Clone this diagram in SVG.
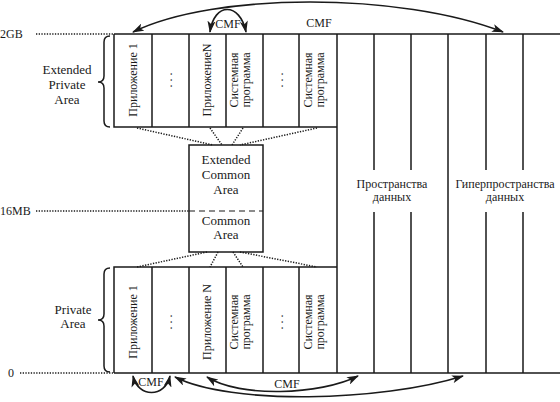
<svg xmlns="http://www.w3.org/2000/svg" width="560" height="402" viewBox="0 0 560 402" font-family="'Liberation Serif', 'Times New Roman', 'DejaVu Serif', serif">
<style>
text{font-family:'Liberation Serif','Times New Roman','DejaVu Serif',serif;font-size:12px;fill:#1a1a1a}
.c{text-anchor:middle}
.b{font-size:13px}
.ln{stroke:#1a1a1a;stroke-width:1.5;fill:none}
.dot{stroke:#1a1a1a;stroke-width:1.5;stroke-dasharray:1.3 1.4;fill:none}
.arc{stroke:#1a1a1a;stroke-width:1.6;fill:none;marker-start:url(#ah);marker-end:url(#ah)}
</style>
<defs>
<marker id="ah" viewBox="0 0 12 8" refX="11" refY="4" markerWidth="12" markerHeight="8" markerUnits="userSpaceOnUse" orient="auto-start-reverse">
<path d="M0,0 L12,4 L0,8 L3,4 z" fill="#1a1a1a"/>
</marker>
</defs>
<rect width="560" height="402" fill="#fff"/>

<g id="scale">
<text x="0" y="38">2GB</text>
<path class="dot" d="M36,34 H113"/>
<text x="0" y="215">16MB</text>
<path class="dot" d="M36,211 H189"/>
<text x="8" y="377">0</text>
<path class="dot" d="M20,373 H113"/>
</g>

<g id="extended-private-label">
<text class="c b" x="67" y="74">Extended</text>
<text class="c b" x="67" y="89">Private</text>
<text class="c b" x="67" y="104">Area</text>
<path class="ln" stroke-width="1" d="M110,36 Q104,36 104,42 V76 Q104,82 98,82 Q104,82 104,88 V121 Q104,127 110,127"/>
</g>

<g id="private-label">
<text class="c b" x="73" y="314">Private</text>
<text class="c b" x="73" y="328">Area</text>
<path class="ln" stroke-width="1" d="M110,268 Q104,268 104,274 V314 Q104,320 98,320 Q104,320 104,326 V366 Q104,372 110,372"/>
</g>

<g id="address-space-frame">
<path class="ln" d="M114,34 H560 M114,373 H560"/>
<path class="ln" d="M337,34 V373 M448,34 V373 M374,34 V170 M374,212 V373 M411,34 V170 M411,212 V373 M486,34 V170 M486,212 V373 M523,34 V170 M523,212 V373"/>
</g>

<g id="upper-block">
<path class="ln" d="M114,34 V127 H337 M152,34 V127 M189,34 V127 M226,34 V127 M263,34 V127 M299,34 V127"/>
<text class="c" transform="translate(137,80) rotate(-90)">Приложение 1</text>
<text class="c" transform="translate(172,80) rotate(-90)">. . .</text>
<text class="c" transform="translate(211,80) rotate(-90)">ПриложениеN</text>
<text class="c" transform="translate(238,80) rotate(-90)">Системная</text>
<text class="c" transform="translate(250,80) rotate(-90)">программа</text>
<text class="c" transform="translate(283,80) rotate(-90)">. . .</text>
<text class="c" transform="translate(312,80) rotate(-90)">Системная</text>
<text class="c" transform="translate(324,80) rotate(-90)">программа</text>
</g>

<g id="lower-block">
<path class="ln" d="M114,373 V267 H337 M152,267 V373 M189,267 V373 M226,267 V373 M263,267 V373 M299,267 V373"/>
<text class="c" transform="translate(137,322) rotate(-90)">Приложение 1</text>
<text class="c" transform="translate(172,322) rotate(-90)">. . .</text>
<text class="c" transform="translate(211,322) rotate(-90)">Приложение N</text>
<text class="c" transform="translate(238,322) rotate(-90)">Системная</text>
<text class="c" transform="translate(250,322) rotate(-90)">программа</text>
<text class="c" transform="translate(283,322) rotate(-90)">. . .</text>
<text class="c" transform="translate(312,322) rotate(-90)">Системная</text>
<text class="c" transform="translate(324,322) rotate(-90)">программа</text>
</g>

<g id="common-area">
<rect class="ln" x="189" y="145" width="74" height="107"/>
<path stroke="#1a1a1a" stroke-width="1.2" stroke-dasharray="6 4" d="M189,211 H263"/>
<text class="c b" x="226" y="164">Extended</text>
<text class="c b" x="226" y="179">Common</text>
<text class="c b" x="226" y="194">Area</text>
<text class="c b" x="226" y="225">Common</text>
<text class="c b" x="226" y="239">Area</text>
</g>

<g id="data-spaces">
<text class="c" x="392" y="188">Пространства</text>
<text class="c" x="392" y="201">данных</text>
</g>
<g id="hiperspaces">
<text class="c" x="505" y="188">Гиперпространства</text>
<text class="c" x="505" y="201">данных</text>
</g>

<g id="connectors">
<path class="dot" d="M137,128 L213,145 M210,128 L222,145 M243,128 L232,145 M317,128 L240,145"/>
<path class="dot" d="M207,252 L137,267 M218,252 L210,267 M233,252 L243,267 M240,252 L317,267"/>
<path class="arc" d="M133,32 C215,-8 400,-8 503,32"/>
<path class="arc" d="M210,32 C214,2 240,2 246,32"/>
<path class="arc" d="M133,376 C138,398 165,398 170,376"/>
<path class="arc" d="M175,377 C230,405 380,402 463,376"/>
<path class="arc" d="M207,377 C240,398 320,395 358,376"/>
<text class="c" x="228" y="28">CMF</text>
<text class="c" x="319" y="27">CMF</text>
<text class="c" x="151" y="386">CMF</text>
<text class="c" x="287" y="388">CMF</text>
</g>
</svg>
